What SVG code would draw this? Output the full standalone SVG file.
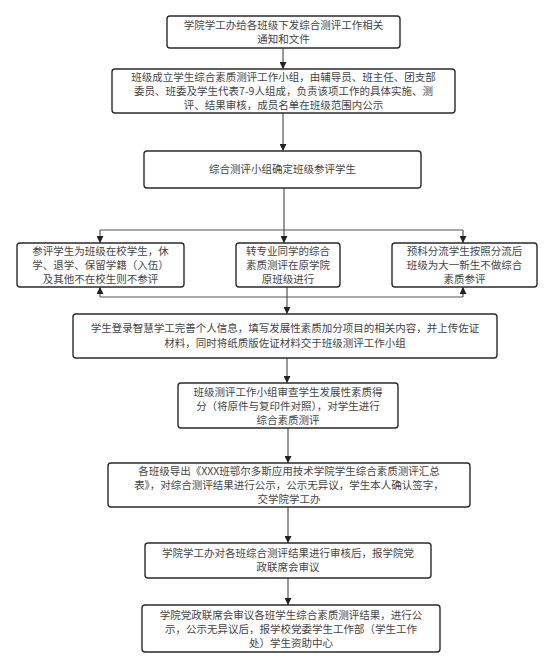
<svg xmlns="http://www.w3.org/2000/svg" width="554" height="670" viewBox="0 0 554 670">
<defs>
<marker id="ah" viewBox="0 0 10 10" refX="10" refY="5" markerWidth="7" markerHeight="7" markerUnits="userSpaceOnUse" orient="auto">
<path d="M0,0 L10,5 L0,10 z" fill="#222"/>
</marker>
<style>
.box{fill:#fff;stroke:#2a2a2a;stroke-width:1.4}
.t{font-family:"Noto Sans CJK SC","Noto Sans",sans-serif;font-size:10.5px;fill:#444;text-anchor:middle}
.c{fill:none;stroke:#555;stroke-width:1.2}
</style>
</defs>
<rect width="554" height="670" fill="#fff"/>
<g id="connectors">
<path class="c" d="M283,48 V69" marker-end="url(#ah)"/>
<path class="c" d="M283,113 V151" marker-end="url(#ah)"/>
<path class="c" d="M284,188 V243" marker-end="url(#ah)"/>
<path class="c" d="M100,230 H463"/>
<path class="c" d="M100,230 V243" marker-end="url(#ah)"/>
<path class="c" d="M463,230 V243" marker-end="url(#ah)"/>
<path class="c" d="M100,297 H463"/>
<path class="c" d="M100,297 V287" marker-end="url(#ah)"/>
<path class="c" d="M463,297 V287" marker-end="url(#ah)"/>
<path class="c" d="M287,287 V314" marker-end="url(#ah)"/>
<path class="c" d="M287,358 V383" marker-end="url(#ah)"/>
<path class="c" d="M288,428 V463" marker-end="url(#ah)"/>
<path class="c" d="M288,507 V543" marker-end="url(#ah)"/>
<path class="c" d="M288,578 V605" marker-end="url(#ah)"/>
</g>
<g id="n1"><rect class="box" x="167" y="16" width="233" height="32" rx="3"/>
<text class="t" x="283.5" y="29">学院学工办给各班级下发综合测评工作相关</text>
<text class="t" x="283.5" y="43">通知和文件</text></g>
<g id="n2"><rect class="box" x="112" y="69" width="343" height="44" rx="3"/>
<text class="t" x="283.5" y="81">班级成立学生综合素质测评工作小组，由辅导员、班主任、团支部</text>
<text class="t" x="283.5" y="95">委员、班委及学生代表7-9人组成，负责该项工作的具体实施、测</text>
<text class="t" x="283.5" y="109">评、结果审核，成员名单在班级范围内公示</text></g>
<g id="n3"><rect class="box" x="144" y="151" width="277" height="37" rx="3"/>
<text class="t" x="282.5" y="173">综合测评小组确定班级参评学生</text></g>
<g id="n4"><rect class="box" x="17" y="243" width="167" height="44" rx="3"/>
<text class="t" x="100.5" y="255">参评学生为班级在校学生，休</text>
<text class="t" x="100.5" y="269">学、退学、保留学籍（入伍）</text>
<text class="t" x="100.5" y="283">及其他不在校生则不参评</text></g>
<g id="n5"><rect class="box" x="236" y="243" width="104" height="44" rx="3"/>
<text class="t" x="288" y="255">转专业同学的综合</text>
<text class="t" x="288" y="269">素质测评在原学院</text>
<text class="t" x="288" y="283">原班级进行</text></g>
<g id="n6"><rect class="box" x="392" y="243" width="145" height="44" rx="3"/>
<text class="t" x="464.5" y="255">预科分流学生按照分流后</text>
<text class="t" x="464.5" y="269">班级为大一新生不做综合</text>
<text class="t" x="464.5" y="283">素质参评</text></g>
<g id="n7"><rect class="box" x="73" y="314" width="424" height="44" rx="3"/>
<text class="t" x="285" y="332">学生登录智慧学工完善个人信息，填写发展性素质加分项目的相关内容，并上传佐证</text>
<text class="t" x="285" y="347">材料，同时将纸质版佐证材料交于班级测评工作小组</text></g>
<g id="n8"><rect class="box" x="178" y="383" width="220" height="45" rx="3"/>
<text class="t" x="288" y="396">班级测评工作小组审查学生发展性素质得</text>
<text class="t" x="288" y="410">分（将原件与复印件对照），对学生进行</text>
<text class="t" x="288" y="424">综合素质测评</text></g>
<g id="n9"><rect class="box" x="108" y="463" width="362" height="44" rx="3"/>
<text class="t" x="289" y="475">各班级导出《XXX班鄂尔多斯应用技术学院学生综合素质测评汇总</text>
<text class="t" x="289" y="489">表》，对综合测评结果进行公示，公示无异议，学生本人确认签字，</text>
<text class="t" x="289" y="503">交学院学工办</text></g>
<g id="n10"><rect class="box" x="145" y="543" width="286" height="35" rx="3"/>
<text class="t" x="288" y="557">学院学工办对各班综合测评结果进行审核后，报学院党</text>
<text class="t" x="288" y="571">政联席会审议</text></g>
<g id="n11"><rect class="box" x="142" y="605" width="298" height="47" rx="3"/>
<text class="t" x="291" y="619">学院党政联席会审议各班学生综合素质测评结果，进行公</text>
<text class="t" x="291" y="633">示，公示无异议后，报学校党委学生工作部（学生工作</text>
<text class="t" x="291" y="647">处）学生资助中心</text></g>
</svg>
